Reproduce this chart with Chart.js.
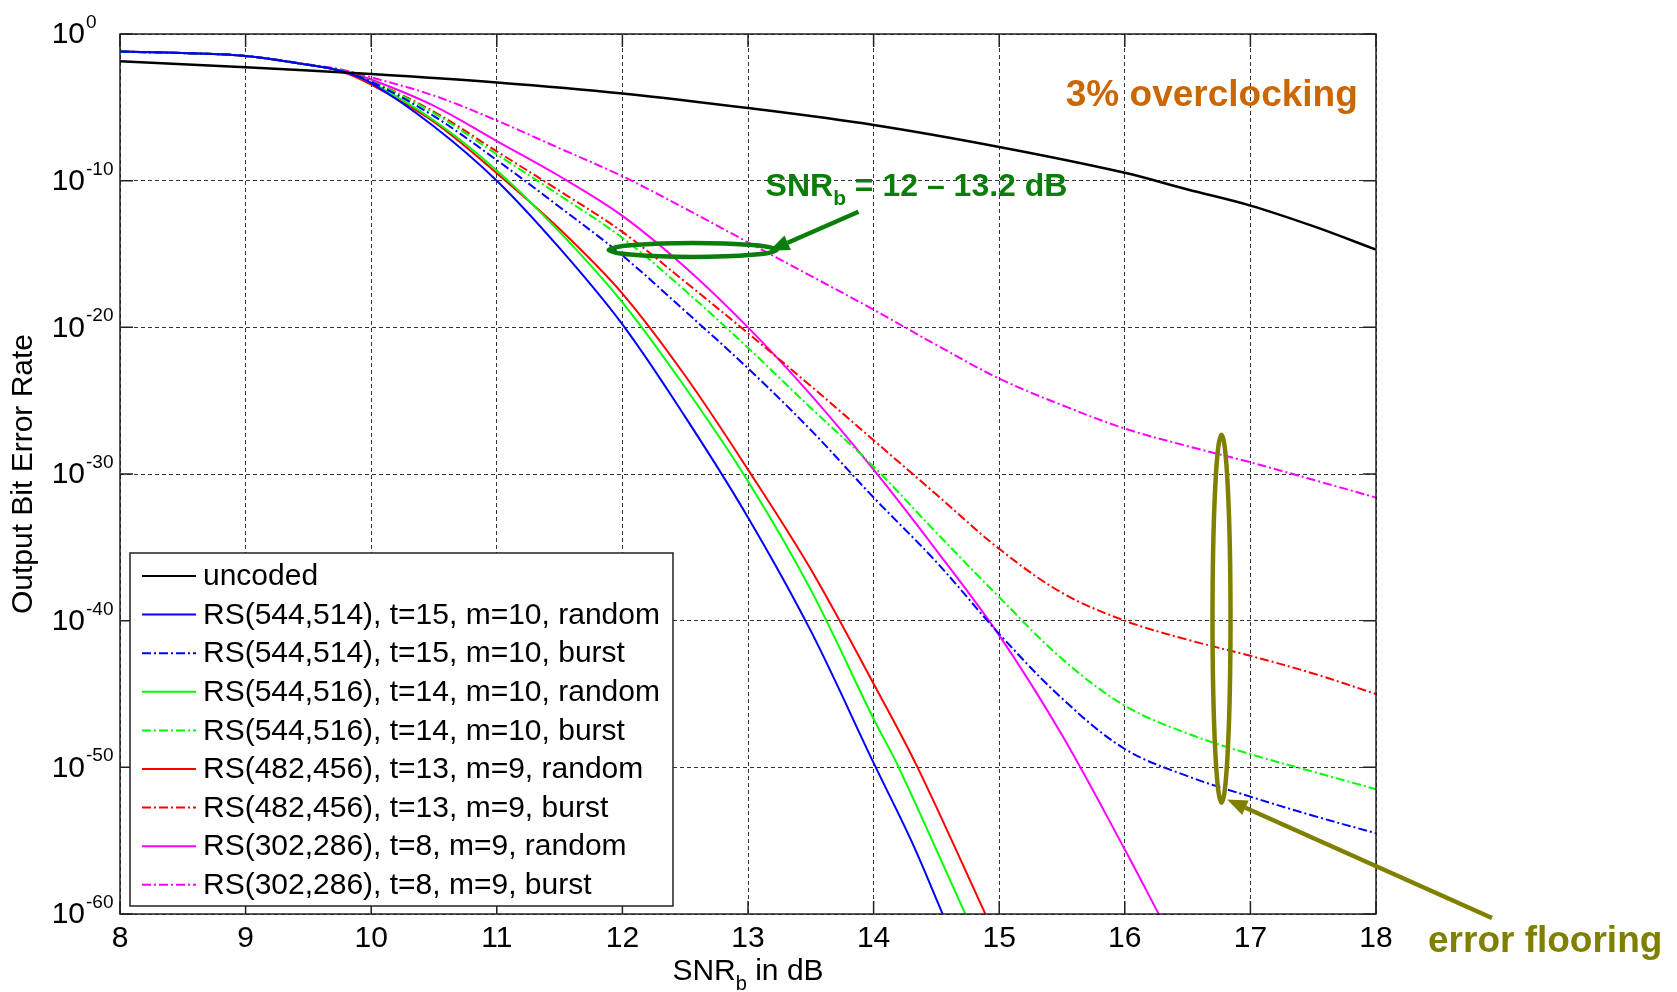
<!DOCTYPE html>
<html>
<head>
<meta charset="utf-8">
<title>Output BER vs SNRb</title>
<script src="https://cdn.jsdelivr.net/npm/chart.js@4.4.1/dist/chart.umd.min.js"></script>
<style>
  html, body { margin: 0; padding: 0; background: #fff; }
  #wrap { width: 1677px; height: 992px; }
</style>
</head>
<body>
<div id="wrap"><canvas id="berChart" width="1677" height="992"></canvas></div>
<script>
// values (SNR_b in dB, output BER)
const snrUncoded = [8, 9, 10, 11, 12, 13, 14, 15, 16, 16.5, 17, 17.5, 18];
const berUncoded = [1.38e-2, 5.4e-3, 1.86e-3, 5.0e-4, 8.9e-5, 8.9e-6, 6.3e-7, 2.0e-8, 3.5e-10, 2.5e-11, 2.0e-12, 7.9e-14, 2.0e-15];

const snrBlueRandom = [8, 8.5, 9, 9.5, 9.75, 10, 10.5, 11, 11.5, 12, 12.5, 13, 13.5, 14, 14.3, 14.55];
const berBlueRandom = [6.3e-2, 5.0e-2, 3.2e-2, 7.9e-3, 3.2e-3, 4.5e-4, 5.0e-7, 1e-10, 2.5e-15, 1.6e-20, 7.9e-27, 1.1e-33, 2.0e-41, 2.0e-50, 1e-55, 1e-60];

const snrGreenRandom = [8, 8.5, 9, 9.5, 9.75, 10, 10.5, 11, 11.5, 12, 12.5, 13, 13.5, 14, 14.2, 14.73];
const berGreenRandom = [6.3e-2, 5.0e-2, 3.2e-2, 7.9e-3, 3.2e-3, 5.0e-4, 1.26e-6, 5.0e-10, 3.2e-14, 5.0e-19, 7.9e-25, 3.2e-31, 1.26e-38, 2.0e-47, 1e-50, 1e-60];

const snrRedRandom = [8, 8.5, 9, 9.5, 9.75, 10, 10.5, 11, 11.5, 12, 12.5, 13, 13.5, 14, 14.35, 14.89];
const berRedRandom = [6.3e-2, 5.0e-2, 3.2e-2, 7.9e-3, 3.0e-3, 3.5e-4, 1e-6, 3.2e-10, 5.0e-14, 2.0e-18, 5.0e-24, 2.0e-30, 3.2e-37, 5.0e-45, 1e-50, 1e-60];

const snrMagentaRandom = [8, 8.5, 9, 9.5, 9.75, 10, 10.5, 11, 11.5, 12, 12.5, 13, 13.5, 14, 14.5, 15, 15.5, 16, 16.27];
const berMagentaRandom = [6.3e-2, 5.0e-2, 3.2e-2, 7.9e-3, 3.4e-3, 7.9e-4, 1.26e-5, 5.0e-8, 2.0e-10, 4.0e-13, 1.26e-16, 1e-20, 2.5e-25, 2.0e-30, 6.3e-36, 1e-41, 1.6e-48, 2.5e-56, 1e-60];

const snrBurst = [8, 8.5, 9, 9.5, 9.75, 10, 10.5, 11, 11.5, 12, 12.5, 13, 13.5, 14, 14.5, 15, 15.5, 16, 16.5, 17, 17.5, 18];
const berBlueBurst = [6.3e-2, 5.0e-2, 3.2e-2, 7.9e-3, 3.2e-3, 5.6e-4, 2.5e-6, 2.5e-9, 1.6e-12, 7.9e-16, 1.26e-19, 1.6e-23, 1e-27, 2.5e-32, 1e-36, 1.26e-41, 5.0e-46, 1.78e-49, 2.5e-51, 1e-52, 5.0e-54, 3.2e-55];
const berGreenBurst = [6.3e-2, 5.0e-2, 3.2e-2, 7.9e-3, 3.2e-3, 6.3e-4, 4.0e-6, 6.3e-9, 1e-11, 1.26e-14, 3.2e-18, 4.0e-22, 3.2e-26, 3.2e-30, 1e-34, 4.0e-39, 2.5e-43, 1.6e-46, 2.0e-48, 7.9e-50, 5.0e-51, 3.2e-52];
const berRedBurst = [6.3e-2, 5.0e-2, 3.2e-2, 7.9e-3, 3.2e-3, 6.3e-4, 5.0e-6, 1e-8, 2.0e-11, 3.2e-14, 1.26e-17, 4.0e-21, 1e-24, 2.0e-28, 4.0e-32, 7.9e-36, 7.9e-39, 1e-40, 5.0e-42, 4.0e-43, 2.5e-44, 1e-45];
const berMagentaBurst = [6.3e-2, 5.0e-2, 3.2e-2, 8.5e-3, 4.0e-3, 1.12e-3, 6.3e-5, 1.26e-6, 1.6e-8, 2.0e-10, 1.26e-12, 6.3e-15, 3.2e-17, 1.6e-19, 6.3e-22, 3.2e-24, 5.0e-26, 1.26e-27, 7.9e-29, 6.3e-30, 4.0e-31, 2.5e-32];

const xTicks = [8, 9, 10, 11, 12, 13, 14, 15, 16, 17, 18];
const yTickExponents = [0, -10, -20, -30, -40, -50, -60];
const yTicks = [1, 1e-10, 1e-20, 1e-30, 1e-40, 1e-50, 1e-60];

const seriesLabels = [
  'uncoded',
  'RS(544,514), t=15, m=10, random',
  'RS(544,514), t=15, m=10, burst',
  'RS(544,516), t=14, m=10, random',
  'RS(544,516), t=14, m=10, burst',
  'RS(482,456), t=13, m=9, random',
  'RS(482,456), t=13, m=9, burst',
  'RS(302,286), t=8, m=9, random',
  'RS(302,286), t=8, m=9, burst'
];

const FONT = '"Liberation Sans", Arial, sans-serif';
const DASHDOT = [9, 3, 2, 3];

function pts(xs, ys) {
  return xs.map((x, i) => ({ x: x, y: ys[i] }));
}

function series(label, xs, ys, color, dashed, width) {
  return {
    label: label,
    data: pts(xs, ys),
    borderColor: color,
    backgroundColor: color,
    borderWidth: width || 2,
    borderDash: dashed ? DASHDOT : [],
    pointRadius: 0,
    fill: false,
    tension: 0.35
  };
}

// text with a subscript piece in the middle
function drawScripted(ctx, pre, small, post, x, y, size, weight, align, lift) {
  ctx.font = weight + ' ' + size + 'px ' + FONT;
  const w1 = ctx.measureText(pre).width;
  const w3 = ctx.measureText(post).width;
  const smallSize = Math.round(size * 0.65);
  ctx.font = weight + ' ' + smallSize + 'px ' + FONT;
  const w2 = ctx.measureText(small).width;
  const total = w1 + w2 + w3;
  let x0 = x;
  if (align === 'center') x0 = x - total / 2;
  if (align === 'right') x0 = x - total;
  ctx.textAlign = 'left';
  ctx.textBaseline = 'alphabetic';
  ctx.font = weight + ' ' + size + 'px ' + FONT;
  ctx.fillText(pre, x0, y);
  ctx.font = weight + ' ' + smallSize + 'px ' + FONT;
  ctx.fillText(small, x0 + w1, y + lift);
  ctx.font = weight + ' ' + size + 'px ' + FONT;
  ctx.fillText(post, x0 + w1 + w2, y);
}

function arrow(ctx, x0, y0, x1, y1, color, lw) {
  const ang = Math.atan2(y1 - y0, x1 - x0);
  const hl = 20, hw = 8;
  const bx = x1 - hl * Math.cos(ang), by = y1 - hl * Math.sin(ang);
  ctx.strokeStyle = color;
  ctx.fillStyle = color;
  ctx.lineWidth = lw;
  ctx.beginPath();
  ctx.moveTo(x0, y0);
  ctx.lineTo(bx, by);
  ctx.stroke();
  ctx.beginPath();
  ctx.moveTo(x1, y1);
  ctx.lineTo(bx + hw * Math.sin(ang), by - hw * Math.cos(ang));
  ctx.lineTo(bx - hw * Math.sin(ang), by + hw * Math.cos(ang));
  ctx.closePath();
  ctx.fill();
}

const decorPlugin = {
  id: 'decor',
  afterDatasetsDraw(chart) {
    const ctx = chart.ctx;
    const area = chart.chartArea;
    const xs = chart.scales.x, ys = chart.scales.y;
    // position helpers: snr (dB) and -log10(BER)
    const px = v => xs.getPixelForValue(v);
    const py = e => ys.getPixelForValue(Math.pow(10, -e));
    ctx.save();

    // axes box + inward tick marks
    ctx.setLineDash([]);
    ctx.strokeStyle = '#222';
    ctx.lineWidth = 1.5;
    ctx.strokeRect(area.left, area.top, area.right - area.left, area.bottom - area.top);
    ctx.beginPath();
    xTicks.forEach(t => {
      const x = px(t);
      ctx.moveTo(x, area.bottom); ctx.lineTo(x, area.bottom - 13);
      ctx.moveTo(x, area.top); ctx.lineTo(x, area.top + 13);
    });
    yTicks.forEach(t => {
      const y = ys.getPixelForValue(t);
      ctx.moveTo(area.left, y); ctx.lineTo(area.left + 13, y);
      ctx.moveTo(area.right, y); ctx.lineTo(area.right - 13, y);
    });
    ctx.stroke();

    // tick labels
    ctx.fillStyle = '#000';
    ctx.font = '30px ' + FONT;
    ctx.textAlign = 'center';
    ctx.textBaseline = 'middle';
    xTicks.forEach(t => ctx.fillText(String(t), px(t), area.bottom + 25));
    yTicks.forEach((t, i) => {
      const y = ys.getPixelForValue(t);
      ctx.font = '30px ' + FONT;
      ctx.textAlign = 'right';
      ctx.textBaseline = 'middle';
      ctx.fillText('10', 85, y + 1);
      ctx.font = '19px ' + FONT;
      ctx.textAlign = 'left';
      ctx.textBaseline = 'alphabetic';
      ctx.fillText(String(yTickExponents[i]), 86, y - 6);
    });

    // axis titles
    ctx.fillStyle = '#000';
    drawScripted(ctx, 'SNR', 'b', ' in dB', (area.left + area.right) / 2, 980, 30, 'normal', 'center', 10);
    ctx.save();
    ctx.translate(24, (area.top + area.bottom) / 2);
    ctx.rotate(-Math.PI / 2);
    ctx.font = '30px ' + FONT;
    ctx.textAlign = 'center';
    ctx.textBaseline = 'middle';
    ctx.fillText('Output Bit Error Rate', 0, 0);
    ctx.restore();

    // annotations
    ctx.fillStyle = '#CC6600';
    ctx.font = 'bold 37px ' + FONT;
    ctx.textAlign = 'left';
    ctx.textBaseline = 'middle';
    ctx.fillText('3% overclocking', px(15.53), py(4.0) + 3);

    const green = '#0A7D0A';
    ctx.fillStyle = green;
    drawScripted(ctx, 'SNR', 'b', ' = 12 \u2013 13.2 dB', px(13.14), py(10.3) + 11, 32, 'bold', 'left', 9);
    ctx.strokeStyle = green;
    ctx.lineWidth = 4.5;
    ctx.beginPath();
    ctx.ellipse(px(12.56), py(14.72), 84, 7, 0, 0, Math.PI * 2);
    ctx.stroke();
    arrow(ctx, px(13.88), py(12.12), px(13.17), py(14.78), green, 4.5);

    const olive = '#808000';
    ctx.strokeStyle = olive;
    ctx.lineWidth = 4.5;
    ctx.beginPath();
    ctx.ellipse(px(16.77), py(39.87), 9, 184, 0, 0, Math.PI * 2);
    ctx.stroke();
    arrow(ctx, 1492, 918, px(16.815), py(52.2), olive, 4.5);
    ctx.fillStyle = olive;
    ctx.font = 'bold 37px ' + FONT;
    ctx.textAlign = 'left';
    ctx.textBaseline = 'middle';
    ctx.fillText('error flooring', 1428, 942);

    // legend box
    const lx = 130, ly = 553, lw = 543, lh = 353;
    ctx.fillStyle = '#fff';
    ctx.fillRect(lx, ly, lw, lh);
    ctx.strokeStyle = '#222';
    ctx.lineWidth = 1.5;
    ctx.setLineDash([]);
    ctx.strokeRect(lx, ly, lw, lh);
    chart.data.datasets.forEach((ds, i) => {
      const y = 576 + i * 38.6;
      ctx.strokeStyle = ds.borderColor;
      ctx.lineWidth = 2;
      ctx.setLineDash(ds.borderDash);
      ctx.beginPath();
      ctx.moveTo(142, y);
      ctx.lineTo(196, y);
      ctx.stroke();
      ctx.setLineDash([]);
      ctx.fillStyle = '#000';
      ctx.font = '30px ' + FONT;
      ctx.textAlign = 'left';
      ctx.textBaseline = 'middle';
      ctx.fillText(ds.label, 203, y + 1);
    });
    ctx.restore();
  }
};

const datasets = [
  series(seriesLabels[0], snrUncoded, berUncoded, '#000000', false, 2.5),
  series(seriesLabels[1], snrBlueRandom, berBlueRandom, '#0000FF', false),
  series(seriesLabels[2], snrBurst, berBlueBurst, '#0000FF', true),
  series(seriesLabels[3], snrGreenRandom, berGreenRandom, '#00FF00', false),
  series(seriesLabels[4], snrBurst, berGreenBurst, '#00FF00', true),
  series(seriesLabels[5], snrRedRandom, berRedRandom, '#FF0000', false),
  series(seriesLabels[6], snrBurst, berRedBurst, '#FF0000', true),
  series(seriesLabels[7], snrMagentaRandom, berMagentaRandom, '#FF00FF', false),
  series(seriesLabels[8], snrBurst, berMagentaBurst, '#FF00FF', true)
];

new Chart(document.getElementById('berChart'), {
  type: 'line',
  data: { datasets: datasets },
  options: {
    responsive: false,
    animation: false,
    layout: { padding: { left: 120, right: 301, top: 34, bottom: 78 } },
    plugins: { legend: { display: false }, tooltip: { enabled: false } },
    scales: {
      x: {
        type: 'linear',
        min: 8,
        max: 18,
        ticks: { display: false, stepSize: 1 },
        grid: { color: '#333', lineWidth: 1, drawTicks: false },
        border: { display: false, dash: [4, 3] }
      },
      y: {
        type: 'logarithmic',
        min: 1e-60,
        max: 1,
        afterBuildTicks: axis => { axis.ticks = yTicks.map(v => ({ value: v })); },
        ticks: { display: false },
        grid: { color: '#333', lineWidth: 1, drawTicks: false },
        border: { display: false, dash: [4, 3] }
      }
    }
  },
  plugins: [decorPlugin]
});
</script>
</body>
</html>
